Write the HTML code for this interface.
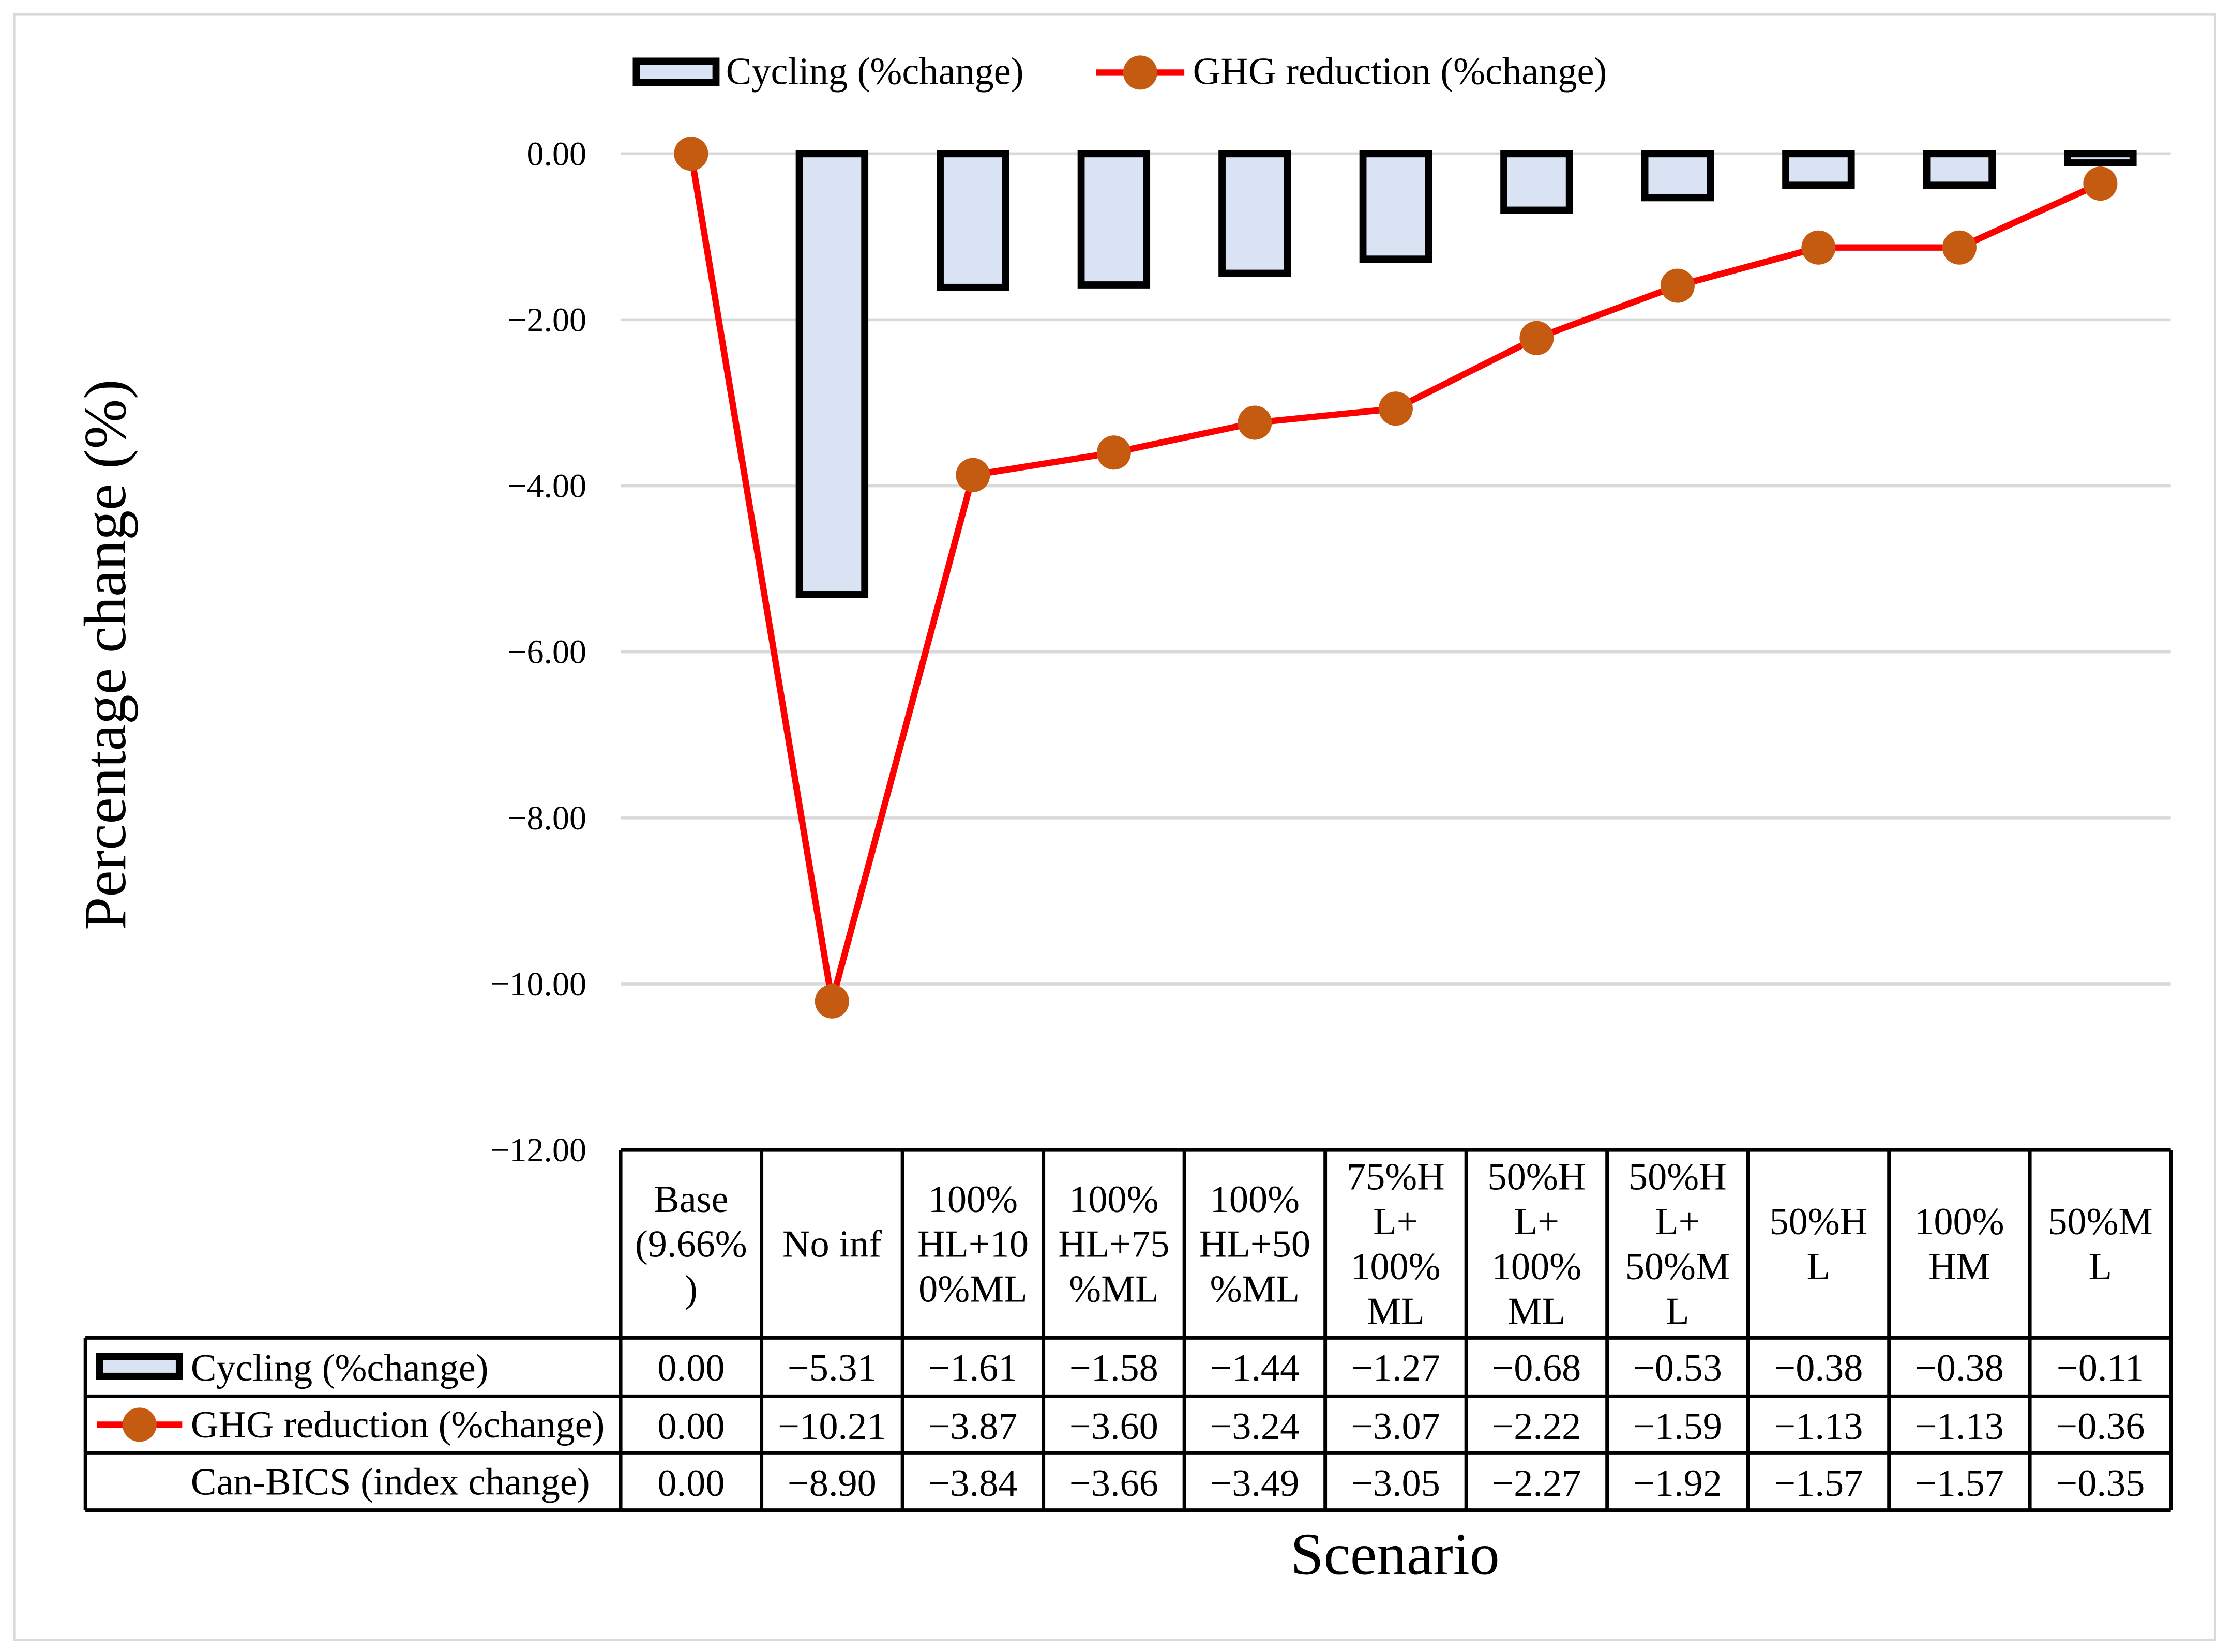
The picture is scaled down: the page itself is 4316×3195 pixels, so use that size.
<!DOCTYPE html>
<html><head><meta charset="utf-8"><style>html,body{margin:0;padding:0;background:#fff}svg{display:block}text{font-family:"Liberation Serif",serif;fill:#000}</style></head>
<body>
<svg id="chart" width="4316" height="3195" viewBox="0 0 1568 1160.7" preserveAspectRatio="none" xmlns="http://www.w3.org/2000/svg">
<rect x="10" y="10" width="1546" height="1142" fill="#fff" stroke="#d9d9d9" stroke-width="1.5"/>
<g id="grid"></g>
<g id="bars"></g>
<g id="line"></g>
<g id="table"></g>
<text transform="translate(88,460) rotate(-90)" text-anchor="middle" font-size="42">Percentage change (%)</text>
<text x="980" y="1106" text-anchor="middle" font-size="42">Scenario</text>
<g>
<rect x="447" y="43" width="56" height="15" fill="#dae3f3" stroke="#000" stroke-width="5"/>
<text x="510" y="59" font-size="27">Cycling (%change)</text>
<line x1="770" y1="51" x2="832" y2="51" stroke="#ff0000" stroke-width="4.5"/>
<circle cx="801" cy="51" r="12" fill="#c55a11"/>
<text x="838" y="59" font-size="27">GHG reduction (%change)</text>
</g>
</svg>
<script>
const categories=[["Base","(9.66%",")"],["No inf"],["100%","HL+10","0%ML"],["100%","HL+75","%ML"],["100%","HL+50","%ML"],["75%H","L+","100%","ML"],["50%H","L+","100%","ML"],["50%H","L+","50%M","L"],["50%H","L"],["100%","HM"],["50%M","L"]];
const cycling=[0,-5.31,-1.61,-1.58,-1.44,-1.27,-0.68,-0.53,-0.38,-0.38,-0.11];
const ghg=[0,-10.21,-3.87,-3.60,-3.24,-3.07,-2.22,-1.59,-1.13,-1.13,-0.36];
const bics=[0,-8.90,-3.84,-3.66,-3.49,-3.05,-2.27,-1.92,-1.57,-1.57,-0.35];
const yTicks=[0,-2,-4,-6,-8,-10,-12];
const NS="http://www.w3.org/2000/svg";
const x0=436,x1=1525,cw=(x1-x0)/categories.length;
const y=v=>108+(0-v)*(808-108)/12;
const xc=i=>x0+cw*(i+0.5);
const fmt=v=>(v<0?"\u2212":"")+Math.abs(v).toFixed(2);
function mk(tag,attrs,parent,txt){const e=document.createElementNS(NS,tag);for(const k in attrs)e.setAttribute(k,attrs[k]);if(txt!==undefined)e.textContent=txt;parent.appendChild(e);return e;}
const grid=document.getElementById('grid');
yTicks.forEach(t=>{
 if(t>-12){const l=mk('line',{x1:x0,x2:x1,y1:y(t),y2:y(t),stroke:'#d9d9d9','stroke-width':2},grid);
 
 }
 const tx=mk('text',{x:412,y:y(t)+8,'text-anchor':'end','font-size':24},grid,fmt(t));
 
 
});
const bars=document.getElementById('bars');
cycling.forEach((v,i)=>{
 if(v===0)return;
 const h=y(v)-y(0);
 const r=mk('rect',{x:xc(i)-23,y:y(0),width:46,height:h,fill:'#dae3f3',stroke:'#000','stroke-width':5},bars);
 
 
});
const lg=document.getElementById('line');
const pl=mk('polyline',{points:ghg.map((v,i)=>xc(i)+','+y(v)).join(' '),fill:'none',stroke:'#ff0000','stroke-width':4.5,'stroke-linejoin':'round'},lg);


ghg.forEach((v,i)=>{
 const c=mk('circle',{cx:xc(i),cy:y(v),r:12,fill:'#c55a11'},lg);
 
 
});
const tb=document.getElementById('table');
const rowsY=[940,981,1021,1061];
const sw=2.5;
mk('line',{x1:x0,x2:x1,y1:808,y2:808,stroke:'#000','stroke-width':sw},tb);
rowsY.forEach(yy=>mk('line',{x1:60,x2:x1,y1:yy,y2:yy,stroke:'#000','stroke-width':sw},tb));
for(let i=0;i<=categories.length;i++)mk('line',{x1:x0+cw*i,x2:x0+cw*i,y1:808,y2:1061,stroke:'#000','stroke-width':sw},tb);
mk('line',{x1:60,x2:60,y1:940,y2:1061,stroke:'#000','stroke-width':sw},tb);
categories.forEach((lines,i)=>{
 const lh=31.5,start=874-(lines.length-1)*lh/2;
 lines.forEach((s,j)=>{
  const t=mk('text',{x:xc(i),y:start+j*lh+9,'text-anchor':'middle','font-size':27},tb,s);
  
  
 });
});
const series=[cycling,ghg,bics];
series.forEach((arr,r)=>{
 arr.forEach((v,i)=>{
  const t=mk('text',{x:xc(i),y:rowsY[r]+30,'text-anchor':'middle','font-size':27},tb,fmt(v));
  
  
 });
});
mk('rect',{x:70,y:953,width:56,height:14,fill:'#dae3f3',stroke:'#000','stroke-width':5},tb);
mk('text',{x:134,y:970,'font-size':27},tb,'Cycling (%change)');
mk('line',{x1:68,x2:128,y1:1001,y2:1001,stroke:'#ff0000','stroke-width':4.5},tb);
mk('circle',{cx:98,cy:1001,r:12,fill:'#c55a11'},tb);
mk('text',{x:134,y:1010,'font-size':27},tb,'GHG reduction (%change)');
mk('text',{x:134,y:1050,'font-size':27},tb,'Can-BICS (index change)');
</script>
</body></html>
